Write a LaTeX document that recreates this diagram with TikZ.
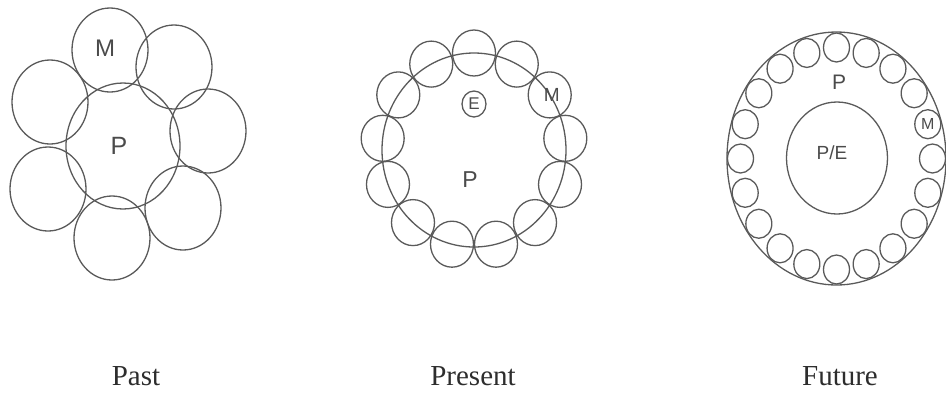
\documentclass[tikz,border=0pt]{standalone}
\usepackage{fontspec}
\setmainfont{Liberation Serif}
\newfontfamily\handfont{Liberation Sans}
\usetikzlibrary{shapes.geometric}
\definecolor{lc}{RGB}{90,90,90}
\definecolor{tc}{RGB}{75,75,75}
\definecolor{capc}{RGB}{45,45,45}
\tikzset{
  ring/.style={ellipse, draw=lc, line width=1.3pt, inner sep=0pt},
  pastc/.style={ring, minimum width=76pt, minimum height=84pt},
  presc/.style={ring, minimum width=43pt, minimum height=46pt},
  futc/.style={ring, minimum width=26pt, minimum height=29pt},
  hand/.style={text=tc, font=\handfont\fontsize{#1}{#1}\selectfont, inner sep=0pt},
  caption/.style={text=capc, font=\fontsize{29}{30}\selectfont, anchor=base, inner sep=0pt}
}
\begin{document}
\begin{tikzpicture}[x=1pt,y=-1pt]
\useasboundingbox (0,0) rectangle (946,392);
% ---------- Past ----------
\node[ring, minimum width=114pt, minimum height=126pt] (pastP) at (123,146) {};
\node[pastc] (pm) at (110,50) {};
\node[pastc] (p2) at (174,67) {};
\node[pastc] (p3) at (208,131) {};
\node[pastc] (p4) at (183,208) {};
\node[pastc] (p5) at (112,238) {};
\node[pastc] (p6) at (48,189) {};
\node[pastc] (p7) at (50,102) {};
\node[hand=24] (pastMl) at (105,48) {M};
\node[hand=25] (pastPl) at (119,146) {P};
% ---------- Present ----------
\node[ring, minimum width=184pt, minimum height=194pt] (presP) at (474,150) {};
\foreach \k in {0,...,12}{
  \pgfmathsetmacro{\a}{90-\k*360/13}
  \node[presc] (s\k) at ({474+92*cos(\a)},{150-97*sin(\a)}) {};
}
\node[hand=19] (presMl) at ([xshift=2pt]s2.center) {M};
\node[ring, minimum width=24pt, minimum height=26pt] (presE) at (474,104) {};
\node[hand=17] (presEl) at (presE.center) {E};
\node[hand=23] (presPl) at (470,180) {P};
% ---------- Future ----------
\node[ring, minimum width=219pt, minimum height=253pt] (futO) at (836.5,158.5) {};
\node[ring, minimum width=101pt, minimum height=112pt] (futI) at (837,158) {};
\foreach \k in {0,...,19}{
  \pgfmathsetmacro{\a}{\k*18}
  \node[futc] (f\k) at ({836.5+96*cos(\a)},{158.5-111*sin(\a)}) {};
}
\node[hand=16] (futMl) at (f1.center) {M};
\node[hand=21] (futPl) at (839,82) {P};
\node[hand=19] (futPEl) at (832,153) {P/E};
% ---------- Captions ----------
\node[caption] (cpast) at (136,385) {Past};
\node[caption] (cpres) at (473,385) {Present};
\node[caption] (cfut) at (840,385) {Future};
\end{tikzpicture}
\end{document}
